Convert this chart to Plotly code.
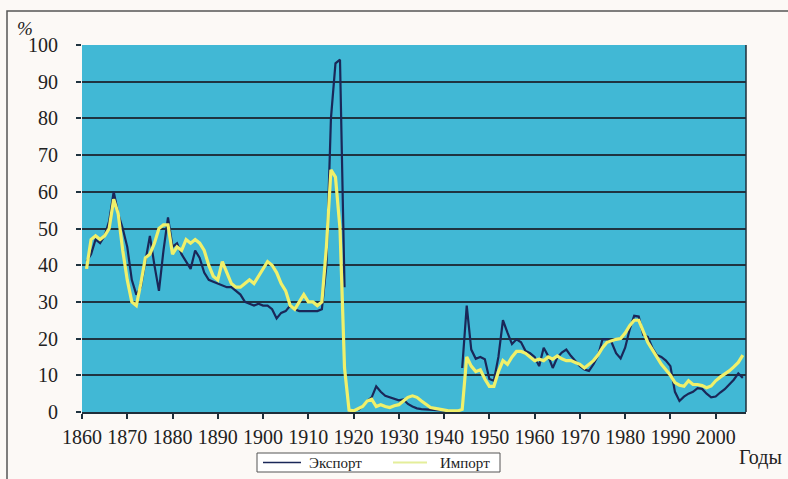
import plotly.graph_objects as go

years = list(range(1861, 2007))

export_vals = [
    41, 43, 47, 46, 48, 52, 60, 54, 50, 45,          # 1861-1870
    36, 32, 34, 41, 48, 40, 33, 44, 53, 45,          # 1871-1880
    46, 43, 41, 39, 44, 42, 38, 36, 35.5, 35,        # 1881-1890
    34.5, 34, 34, 33, 32, 30, 29.5, 29, 29.5, 29,    # 1891-1900
    29, 28, 25.5, 27, 27.5, 29, 28, 27.5, 27.5, 27.5,  # 1901-1910
    27.5, 27.5, 28, 40, 80, 95, 96, 34, None, None,  # 1911-1920
    0.5, 1.5, 3, 4, 7, 5.5, 4.4, 4, 3.5, 3.2,        # 1921-1930
    3.4, 2.2, 1.5, 1, 0.8, 0.7, 0.6, 0.5, 0.4, 0.3,  # 1931-1940
    0.3, None, None, 12, 29, 17, 14.5, 15, 14.4, 9,  # 1941-1950
    8.5, 15, 25, 21.6, 18.5, 19.8, 19, 16.6, 16, 15,  # 1951-1960
    12.5, 17.5, 15.3, 12, 14.8, 16.2, 17, 15.3, 14, 12.5,  # 1961-1970
    11.6, 11.2, 13, 15.3, 19.8, 19.8, 19, 16, 14.6, 17.5,  # 1971-1980
    22.5, 26.2, 26, 21, 20.5, 17.5, 15.5, 15, 14, 12.5,    # 1981-1990
    5.5, 3, 4.2, 5, 5.5, 6.5, 6.3, 5, 4, 4.2,        # 1991-2000
    5.3, 6.2, 7.5, 8.8, 10.5, 9.3,                   # 2001-2006
]

import_vals = [
    39, 47, 48, 47, 48, 50, 58, 54, 44, 36,          # 1861-1870
    30, 29, 35, 42, 43, 46, 50, 51, 51, 43,          # 1871-1880
    45, 44, 47, 46, 47, 46, 44, 40, 37, 36,          # 1881-1890
    41, 38, 35, 34, 34, 35, 36, 35, 37, 39,          # 1891-1900
    41, 40, 38, 35, 33, 29, 28, 30, 32, 30,          # 1901-1910
    30, 29, 30, 45, 66, 64, 50, 12, 0.5, 0.3,        # 1911-1920
    1, 1.5, 3, 3.5, 1.5, 2, 1.5, 1.2, 1.7, 2,        # 1921-1930
    3, 4, 4.4, 4, 3, 2, 1.2, 1, 0.7, 0.5,            # 1931-1940
    0.3, 0.3, 0.3, 0.7, 15, 12.5, 11, 11.5, 9, 7,    # 1941-1950
    7, 11, 14, 13, 15, 16.5, 16.5, 16, 15, 14,       # 1951-1960
    14.4, 14, 15, 14.4, 15.3, 14.5, 14, 14, 13.5, 13,  # 1961-1970
    12, 13, 14, 15.5, 17.5, 19, 19.5, 19.8, 20, 21.5,  # 1971-1980
    23.5, 25, 25, 22, 19, 17, 15, 13, 11.5, 10,      # 1981-1990
    8, 7.3, 7, 8.5, 7.5, 7.5, 7.2, 6.6, 7.1, 8.5,    # 1991-2000
    9.5, 10.3, 11.2, 12.3, 13.5, 15.5,               # 2001-2006
]

series_names = ["Экспорт", "Импорт"]
x_ticks = list(range(1860, 2001, 10))
y_ticks = list(range(0, 101, 10))

SERIF = "Liberation Serif, Times New Roman, serif"
C_EXP = "#1A2758"
C_IMP = "#F0F06A"
C_IMP_LEG = "#E4EE9A"

fig = go.Figure()
fig.add_trace(go.Scatter(
    x=years, y=export_vals, name=series_names[0], mode="lines",
    line=dict(color=C_EXP, width=2.2), connectgaps=False, showlegend=False,
))
fig.add_trace(go.Scatter(
    x=years, y=import_vals, name=series_names[1], mode="lines",
    line=dict(color=C_IMP, width=3.2), connectgaps=False, showlegend=False,
))

L, R, T, B = 82, 42, 45, 67
W, H = 788, 479
pw, ph = W - L - R, H - T - B

def px(xp):
    return (xp - L) / pw

def py(yp):
    return (H - B - yp) / ph

# legend box geometry (pixels)
LEG_X0, LEG_X1, LEG_Y0, LEG_Y1 = 257, 500, 453, 472
LEG_YC = (LEG_Y0 + LEG_Y1) / 2

shapes = [
    dict(type="rect", xref="paper", yref="paper",
         x0=px(7), x1=px(820), y0=py(520), y1=py(11),
         line=dict(color="#555555", width=1.5), fillcolor="rgba(0,0,0,0)",
         layer="below"),
    dict(type="line", xref="paper", yref="paper",
         x0=1, x1=1, y0=0, y1=1,
         line=dict(color="#1F2E3A", width=1.5)),
    dict(type="rect", xref="paper", yref="paper",
         x0=px(LEG_X0), x1=px(LEG_X1), y0=py(LEG_Y1), y1=py(LEG_Y0),
         line=dict(color="#555555", width=1), fillcolor="#FFFFFF"),
    dict(type="line", xref="paper", yref="paper",
         x0=px(263), x1=px(301), y0=py(LEG_YC), y1=py(LEG_YC),
         line=dict(color=C_EXP, width=1.6)),
    dict(type="line", xref="paper", yref="paper",
         x0=px(393), x1=px(427), y0=py(LEG_YC), y1=py(LEG_YC),
         line=dict(color=C_IMP_LEG, width=2.2)),
]

annotations = [
    dict(text="<i>%</i>", xref="paper", yref="paper", x=px(25), y=py(28),
         xanchor="center", yanchor="middle", showarrow=False,
         font=dict(family=SERIF, size=19, color="#222222")),
    dict(text="Годы", xref="paper", yref="paper", x=px(784), y=py(457),
         xanchor="right", yanchor="middle", showarrow=False,
         font=dict(family=SERIF, size=20, color="#222222")),
    dict(text=series_names[0], xref="paper", yref="paper", x=px(307), y=py(LEG_YC),
         xanchor="left", yanchor="middle", showarrow=False,
         font=dict(family=SERIF, size=15, color="#222222")),
    dict(text=series_names[1], xref="paper", yref="paper", x=px(438), y=py(LEG_YC),
         xanchor="left", yanchor="middle", showarrow=False,
         font=dict(family=SERIF, size=15, color="#222222")),
]

fig.update_layout(
    width=W, height=H,
    margin=dict(l=L, r=R, t=T, b=B, pad=0, autoexpand=False),
    paper_bgcolor="#FCF9F6",
    plot_bgcolor="#41B8D5",
    font=dict(family=SERIF, color="#222222", size=18),
    showlegend=False,
    xaxis=dict(
        range=[1860, 2006.7], tickvals=x_ticks, ticktext=[str(v) for v in x_ticks],
        showgrid=False, zeroline=False,
        showline=True, linecolor="#1F2E3A", linewidth=1.5,
        ticks="outside", ticklen=5, tickcolor="#1F2E3A", tickwidth=1.5,
        tickfont=dict(family=SERIF, size=20, color="#222222"),
        ticklabelstandoff=1,
    ),
    yaxis=dict(
        range=[0, 100], tickvals=y_ticks,
        showgrid=True, gridcolor="#1F3340", gridwidth=1.5,
        zeroline=False, showline=False,
        ticks="outside", ticklen=5, tickcolor="#1F3340", tickwidth=1.5,
        tickfont=dict(family=SERIF, size=20, color="#222222"),
        ticklabelstandoff=14,
    ),
    shapes=shapes,
    annotations=annotations,
)

fig.write_html(
    "out.html",
    config={"displayModeBar": False},
    post_script="document.body.style.margin='0';document.body.style.overflow='hidden';",
)
